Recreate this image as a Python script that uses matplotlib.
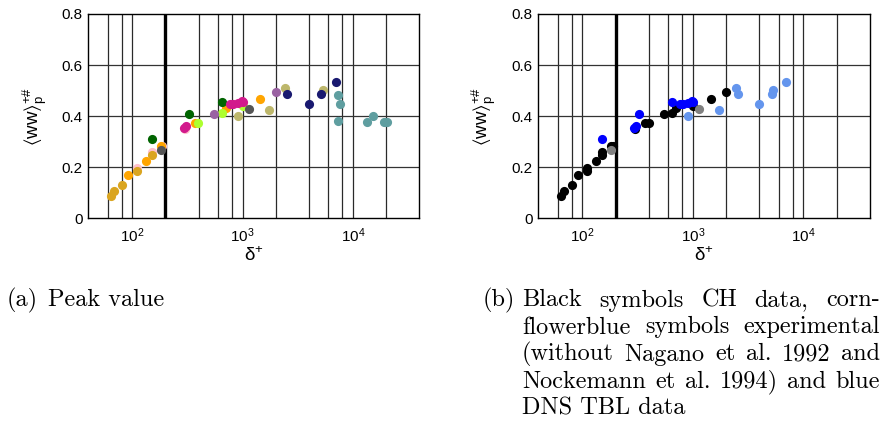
import matplotlib
matplotlib.use('Agg')
import matplotlib.pyplot as plt
from matplotlib.ticker import FixedLocator, NullLocator, FixedFormatter

plt.rcParams['font.family'] = ['Liberation Sans', 'DejaVu Sans']
plt.rcParams['mathtext.fontset'] = 'custom'
plt.rcParams['mathtext.rm'] = 'Liberation Sans'
plt.rcParams['mathtext.it'] = 'Liberation Sans:italic'
plt.rcParams['mathtext.default'] = 'regular'

# ---------------- data (delta+, peak value) ----------------
goldenrod_x = [64, 69, 80, 110, 152]
goldenrod_y = [0.087, 0.107, 0.130, 0.184, 0.246]
pink_x = [110, 152, 188, 300]
pink_y = [0.197, 0.258, 0.283, 0.350]
orange_x = [91, 132, 182, 372, 711, 1445]
orange_y = [0.170, 0.223, 0.285, 0.372, 0.433, 0.467]
greenyellow_x = [398, 649, 1000]
greenyellow_y = [0.375, 0.413, 0.440]
darkgreen_x = [150, 326, 652]
darkgreen_y = [0.312, 0.407, 0.455]
purple_x = [548, 1995]
purple_y = [0.408, 0.493]
mvr_x = [296, 308, 762, 817, 906, 986, 1007]
mvr_y = [0.355, 0.362, 0.446, 0.448, 0.453, 0.460, 0.456]
dimgray_x = [183, 1140]
dimgray_y = [0.266, 0.429]
darkkhaki_x = [910, 1722, 2437, 5346]
darkkhaki_y = [0.402, 0.423, 0.509, 0.502]
navy_x = [2540, 3990, 5165, 7010]
navy_y = [0.488, 0.447, 0.486, 0.532]
cadet_x = [7266, 7570, 7266, 13300, 15200, 18970, 20500]
cadet_y = [0.483, 0.449, 0.380, 0.378, 0.401, 0.377, 0.376]

grid_x = [60, 80, 100, 200, 400, 600, 800, 1000, 2000, 4000, 6000, 8000, 10000, 20000]
grid_y = [0.2, 0.4, 0.6]
thick_x = 200
xticks = [100, 1000, 10000]
xticklabels = ['$10^{2}$', '$10^{3}$', '$10^{4}$']
yticks = [0, 0.2, 0.4, 0.6, 0.8]
yticklabels = ['0', '0.2', '0.4', '0.6', '0.8']

# (x, y, colour in panel a, colour in panel b or None if excluded)
groups = [
    (pink_x, pink_y, '#FFC0CB', 'black'),
    (goldenrod_x, goldenrod_y, '#DAA520', 'black'),
    (orange_x, orange_y, '#FFA500', 'black'),
    (greenyellow_x, greenyellow_y, '#ADFF2F', 'black'),
    (purple_x, purple_y, '#9A62A2', 'black'),
    (darkgreen_x, darkgreen_y, '#006400', '#0000FF'),
    (mvr_x, mvr_y, '#D21A8C', '#0000FF'),
    (dimgray_x, dimgray_y, '#555555', '#808080'),
    (darkkhaki_x, darkkhaki_y, '#BDB76B', '#6495ED'),
    (navy_x, navy_y, '#191970', '#6495ED'),
    (cadet_x, cadet_y, '#5F9EA0', None),
]

W, H = 890, 421
fig = plt.figure(figsize=(W / 100, H / 100), dpi=100)

ax_a = fig.add_axes([88.3 / W, 1 - 218.3 / H, 331 / W, 204.3 / H])
ax_b = fig.add_axes([538.3 / W, 1 - 218.3 / H, 331.7 / W, 204.3 / H])

ms = 6.6


def setup(ax):
    ax.set_xscale('log')
    ax.set_xlim(40, 40000)
    ax.set_ylim(0, 0.8)
    for gx in grid_x:
        ax.axvline(gx, color='#2a2a2a', lw=0.9, zorder=1)
    ax.axvline(thick_x, color='black', lw=2.4, zorder=1.5)
    for gy in grid_y:
        ax.axhline(gy, color='#333333', lw=0.9, zorder=1)
    ax.xaxis.set_major_locator(FixedLocator(xticks))
    ax.xaxis.set_major_formatter(FixedFormatter(xticklabels))
    ax.xaxis.set_minor_locator(NullLocator())
    ax.yaxis.set_major_locator(FixedLocator(yticks))
    ax.yaxis.set_major_formatter(FixedFormatter(yticklabels))
    ax.tick_params(axis='both', length=0, labelsize=11, colors='black')
    ax.tick_params(axis='x', pad=6)
    ax.tick_params(axis='y', pad=4)
    for s in ax.spines.values():
        s.set_linewidth(1.0)
        s.set_color('black')
    ax.set_xlabel('δ$^{+}$', fontsize=13.5, va='top')
    ax.xaxis.set_label_coords(0.5, -0.135)
    ax.set_ylabel(r'$\langle$ww$\rangle_{p}^{+\#}$', fontsize=13.5)
    ax.yaxis.set_label_coords(-0.12, 0.5)


setup(ax_a)
setup(ax_b)

for gx, gy, ca, cb in groups:
    ax_a.plot(gx, gy, 'o', color=ca, ms=ms, mew=0, zorder=3)

order_b = ['black', '#0000FF', '#808080', '#6495ED']
for col in order_b:
    for gx, gy, ca, cb in groups:
        if cb == col:
            ax_b.plot(gx, gy, 'o', color=cb, ms=ms, mew=0, zorder=3)

# ---------------- captions ----------------
cap_kw = dict(fontfamily='cmr10', fontsize=17.5, va='baseline', ha='left')
fig.text(7 / W, 1 - 306.5 / H, '(a)', **cap_kw)
fig.text(48 / W, 1 - 306.5 / H, 'Peak value', **cap_kw)

renderer = fig.canvas.get_renderer()


def justify(words, x0, x1, ybase):
    texts = [fig.text(0, 1 - ybase / H, w, **cap_kw) for w in words]
    widths = [t.get_window_extent(renderer).width for t in texts]
    gap = (x1 - x0 - sum(widths)) / (len(words) - 1)
    x = x0
    for t, w in zip(texts, widths):
        t.set_x(x / W)
        x += w + gap


fig.text(483 / W, 1 - 306.5 / H, '(b)', **cap_kw)
lines = [
    'Black symbols CH data, corn-',
    'flowerblue symbols experimental',
    '(without Nagano et al.  1992 and',
    'Nockemann et al.  1994) and blue',
]
bx0, bx1 = 522, 880
baselines = [306.5, 333.5, 360.5, 387.5, 414.5]
for ln, yb in zip(lines, baselines):
    justify(ln.split(), bx0, bx1, yb)
fig.text(bx0 / W, 1 - baselines[4] / H, 'DNS TBL data', **cap_kw)

fig.savefig('out.png', dpi=100)
